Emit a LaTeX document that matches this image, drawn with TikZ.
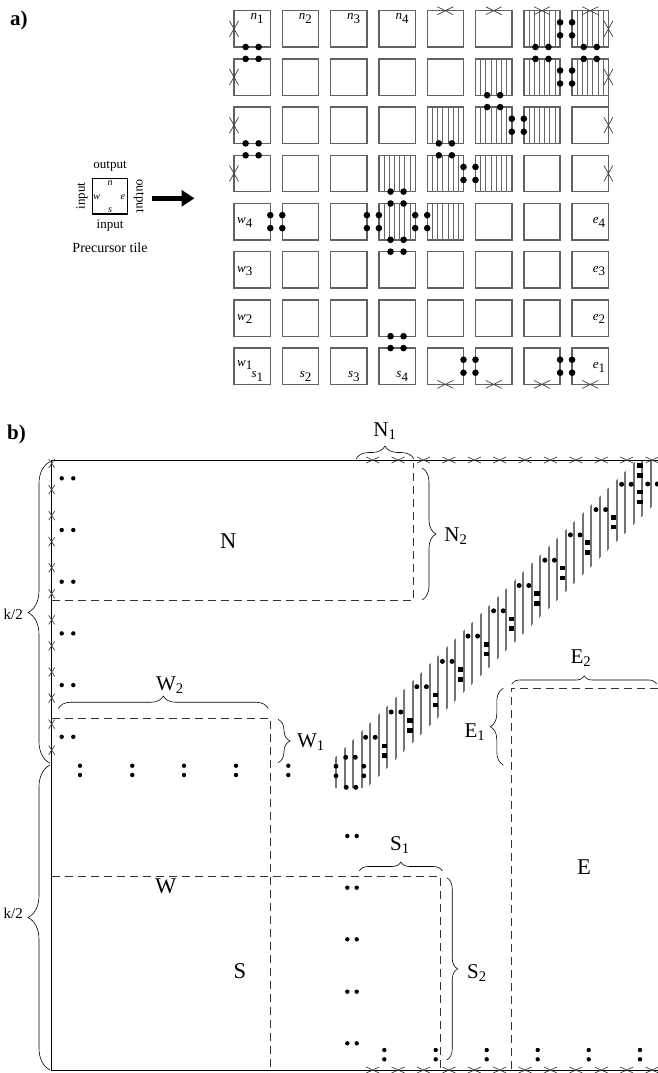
\documentclass[tikz,border=0pt]{standalone}
\usepackage{fontspec}
\setmainfont{Liberation Serif}
\usetikzlibrary{calc,decorations.pathreplacing,arrows.meta}
\newcommand{\fsz}[1]{\fontsize{#1}{#1}\selectfont}
\newcommand{\tlab}[2]{\textit{#1}\raisebox{-3.5pt}{#2}}
\newcommand{\xcross}[3]{\draw[xmk] ([shift={(-#2pt,-#3pt)}]#1) -- ([shift={(#2pt,#3pt)}]#1) ([shift={(-#2pt,#3pt)}]#1) -- ([shift={(#2pt,-#3pt)}]#1);}
\begin{document}
\begin{tikzpicture}[x=1pt,y=-1pt,
  tilebox/.style={draw=black!62, line width=1.4pt, minimum size=36.3pt, inner sep=0pt, outer sep=0pt},
  hatchline/.style={draw=black!60, line width=0.8pt},
  xmk/.style={draw=black!75, line width=0.7pt},
  frame/.style={draw=black, line width=0.9pt},
  curly/.style={decorate, decoration={brace, amplitude=#1pt}, line width=0.6pt},
  dsh/.style={draw=black!80, line width=0.6pt, dash pattern=on 8pt off 5pt},
  bandline/.style={draw=black!55, line width=2pt},
  tl/.style={inner sep=0pt, font=\fsz{13}},
  reg/.style={inner sep=0pt, font=\fsz{22.5}},
  sub/.style={inner sep=0pt, font=\fsz{21}},
  klab/.style={inner sep=0pt, font=\fsz{15}},
  plab/.style={inner sep=0pt, font=\fsz{13}},
  pin/.style={inner sep=0pt, font=\fsz{10}\itshape},
  part/.style={inner sep=0pt, font=\fsz{21}\bfseries}
]
\useasboundingbox (0,0) rectangle (658,1073);

% ---------------- part a ----------------
\node[part, anchor=west] (pa) at (10,20) {a)};

\foreach \c in {1,...,8}{\foreach \r in {1,...,8}{
  \node[tilebox] (t-\c-\r) at ({252.15+(\c-1)*48.3},{28.85+(\r-1)*48.2}) {};
}}

% hatching
\foreach \c/\r in {7/1,8/1,6/2,7/2,8/2,5/3,6/3,7/3,4/4,5/4,6/4,4/5,5/5}{
  \foreach \k in {1,...,6}{
    \draw[hatchline] ($(t-\c-\r.north west)!\k/7!(t-\c-\r.north east)$) -- ($(t-\c-\r.south west)!\k/7!(t-\c-\r.south east)$);
  }
}

% vertical connections (dots)
\foreach \c/\r in {1/1,1/3,4/4,4/5,4/7,5/3,6/2,7/1,8/1}{
  \pgfmathtruncatemacro\rr{\r+1}
  \foreach \s in {-6.5,6.5}{
    \fill ([xshift=\s pt]t-\c-\r.south) circle (3.3pt);
    \fill ([xshift=\s pt]t-\c-\rr.north) circle (3.3pt);
  }
}
% horizontal connections (dots)
\foreach \c/\r in {7/1,7/2,6/3,5/4,1/5,3/5,4/5,5/8,7/8}{
  \pgfmathtruncatemacro\cc{\c+1}
  \foreach \s in {-6.5,6.5}{
    \fill ([yshift=\s pt]t-\c-\r.east) circle (3.3pt);
    \fill ([yshift=\s pt]t-\cc-\r.west) circle (3.3pt);
  }
}

% crosses on border
\foreach \c in {5,...,8}{
  \xcross{t-\c-1.north}{8}{4}
  \xcross{t-\c-8.south}{8}{4}
}
\foreach \r in {1,...,4}{
  \xcross{t-1-\r.west}{4.5}{8}
  \xcross{t-8-\r.east}{4.5}{8}
}
\draw[draw=black!62, line width=1.4pt] (t-8-2.south east) -- (t-8-3.north east);

% tile labels
\foreach \c in {1,...,4}{
  \node[tl, anchor=north east] (ln\c) at ([shift={(-6.5pt,-2.5pt)}]t-\c-1.north east) {\tlab{n}{\c}};
  \node[tl, anchor=south east] (ls\c) at ([shift={(-7pt,3pt)}]t-\c-8.south east) {\tlab{s}{\c}};
}
\foreach \r/\d in {5/4,6/3,7/2}{
  \node[tl, anchor=west] (lw\d) at ([shift={(3pt,-1pt)}]t-1-\r.west) {\tlab{w}{\d}};
}
\node[tl, anchor=north west] (lw1) at ([shift={(3pt,-12pt)}]t-1-8.north west) {\tlab{w}{1}};
\foreach \r/\d in {5/4,6/3,7/2,8/1}{
  \node[tl, anchor=east] (le\d) at ([shift={(-3pt,-1pt)}]t-8-\r.east) {\tlab{e}{\d}};
}

% precursor tile
\node[draw=black, line width=1.1pt, minimum size=35.5pt, inner sep=0pt] (pre) at (110,196.2) {};
\node[pin] (pn) at (110,183.5) {n};
\node[pin] (pw) at (96.8,197.3) {w};
\node[pin] (pe) at (122.8,197.3) {e};
\node[pin] (ps) at (110,210) {s};
\node[plab] (pout1) at (110,166) {output};
\node[plab] (pin1) at (110,226) {input};
\node[plab, rotate=90] (pin2) at (82,196) {input};
\node[plab, rotate=-90] (pout2) at (139,196) {output};
\node[inner sep=0pt, font=\fsz{14}] (pcap) at (110,247.5) {Precursor tile};
\coordinate (arA) at (151.7,198.3);
\coordinate (arB) at (194.5,198.3);
\draw[line width=5.5pt, -{Triangle[length=13pt,width=16pt]}] (arA) -- (arB);

% ---------------- part b ----------------
\node[part, anchor=west] (pb) at (7,434) {b)};

% diagonal band
\begin{scope}
  \clip (335,757.6) -- (636.8,460) -- (658,460) -- (658,500.7) -- (366.9,788) -- (335,788) -- cycle;
  \foreach \i in {0,...,38}{
    \draw[bandline] ({336+8.5*\i},455) -- ({336+8.5*\i},795);
  }
\end{scope}

% frame
\draw[frame] (658,460) -- (51.7,460) -- (51.7,1070) -- (658,1070);

% dashed regions
\draw[dsh] (51.7,600) -- (413.3,600) -- (413.3,463);
\draw[dsh] (51.7,718.5) -- (270.5,718.5) -- (270.5,1069);
\draw[dsh] (51.7,876.7) -- (440.5,876.7) -- (440.5,1069);
\draw[dsh] (511,1069) -- (511,688.3) -- (658,688.3);

% crosses
\foreach \i in {0,...,11}{
  \coordinate (tx\i) at ({372.7+25.4*\i},460);
  \coordinate (bx\i) at ({372.7+25.4*\i},1070);
  \coordinate (lx\i) at (51.7,{463.5+26.06*\i});
  \xcross{tx\i}{6.5}{3}
  \xcross{bx\i}{6.5}{3}
  \xcross{lx\i}{3}{4.5}
}

% dots
\foreach \y in {478.3,530,581.7,633.4,685.1,736.8}{
  \fill (61.7,\y) circle (2.2pt) (73.3,\y) circle (2.2pt);
}
\foreach \x in {80,132.3,184,236,288.3}{
  \fill (\x,765.7) circle (2.2pt) (\x,775) circle (2.2pt);
}
\foreach \x in {384.3,435.7,486.7,537.7,588.7,640}{
  \fill (\x,1050) circle (2.2pt) (\x,1059.3) circle (2.2pt);
}
\foreach \y in {836,887.7,939.3,991.7,1043.3}{
  \fill (347.3,\y) circle (2.2pt) (356.7,\y) circle (2.2pt);
}
% band dots: horizontal pairs
\foreach \k in {-1,...,9}{
  \fill ({396+25.6*\k-4.8},{712-25.3*\k}) circle (2.5pt) ({396+25.6*\k+4.8},{712-25.3*\k}) circle (2.5pt);
}
\foreach \x/\y in {350.5/757.3,351/787.3,652.5/484}{
  \fill ({\x-4.8},\y) circle (2.5pt) ({\x+4.8},\y) circle (2.5pt);
}
% band dots: vertical pairs
\foreach \k in {-1,...,8}{
  \fill ({410+25.4*\k-2.6},{725.3-25.4*\k-7.2}) rectangle ({410+25.4*\k+2.6},{725.3-25.4*\k-2.6});
  \fill ({410+25.4*\k-2.6},{725.3-25.4*\k+2.6}) rectangle ({410+25.4*\k+2.6},{725.3-25.4*\k+7.2});
}
\foreach \x/\y in {640/470.5,640/497}{
  \fill ({\x-2.6},{\y-7.2}) rectangle ({\x+2.6},{\y-2.6});
  \fill ({\x-2.6},{\y+2.6}) rectangle ({\x+2.6},{\y+7.2});
}
\foreach \x in {336,363.8}{
  \fill (\x,766.2) circle (2.4pt) (\x,775.8) circle (2.4pt);
}

% braces
\draw[curly=22] (50,763.3) -- (50,461.7);
\draw[curly=22] (50,1070) -- (50,765);
\draw[curly=13] (356,459) -- (414,459);
\draw[curly=14] (422,468) -- (422,600);
\draw[curly=12.5] (58.3,708.5) -- (268.3,708.5);
\draw[curly=12] (278,719.3) -- (278,762.7);
\draw[curly=9] (359.3,871) -- (442.3,871);
\draw[curly=11] (446.7,877.7) -- (446.7,1060);
\draw[curly=8] (511.7,684) -- (656.7,684);
\draw[curly=13] (503.3,765) -- (503.3,688.3);

% labels
\node[klab] (k1) at (13.3,614) {k/2};
\node[klab] (k2) at (13.3,913) {k/2};
\node[sub] (lN1) at (385,431) {N\textsubscript{1}};
\node[sub] (lN2) at (456,536) {N\textsubscript{2}};
\node[sub] (lW2) at (170,685) {W\textsubscript{2}};
\node[sub] (lW1) at (311,742) {W\textsubscript{1}};
\node[sub] (lS1) at (400,845) {S\textsubscript{1}};
\node[sub] (lS2) at (477,973) {S\textsubscript{2}};
\node[sub] (lE2) at (581,658) {E\textsubscript{2}};
\node[sub] (lE1) at (475,732) {E\textsubscript{1}};
\node[reg] (lN) at (228.3,541) {N};
\node[reg] (lW) at (165.8,886.7) {W};
\node[reg] (lS) at (240,971) {S};
\node[reg] (lE) at (584,867.5) {E};
\end{tikzpicture}
\end{document}
